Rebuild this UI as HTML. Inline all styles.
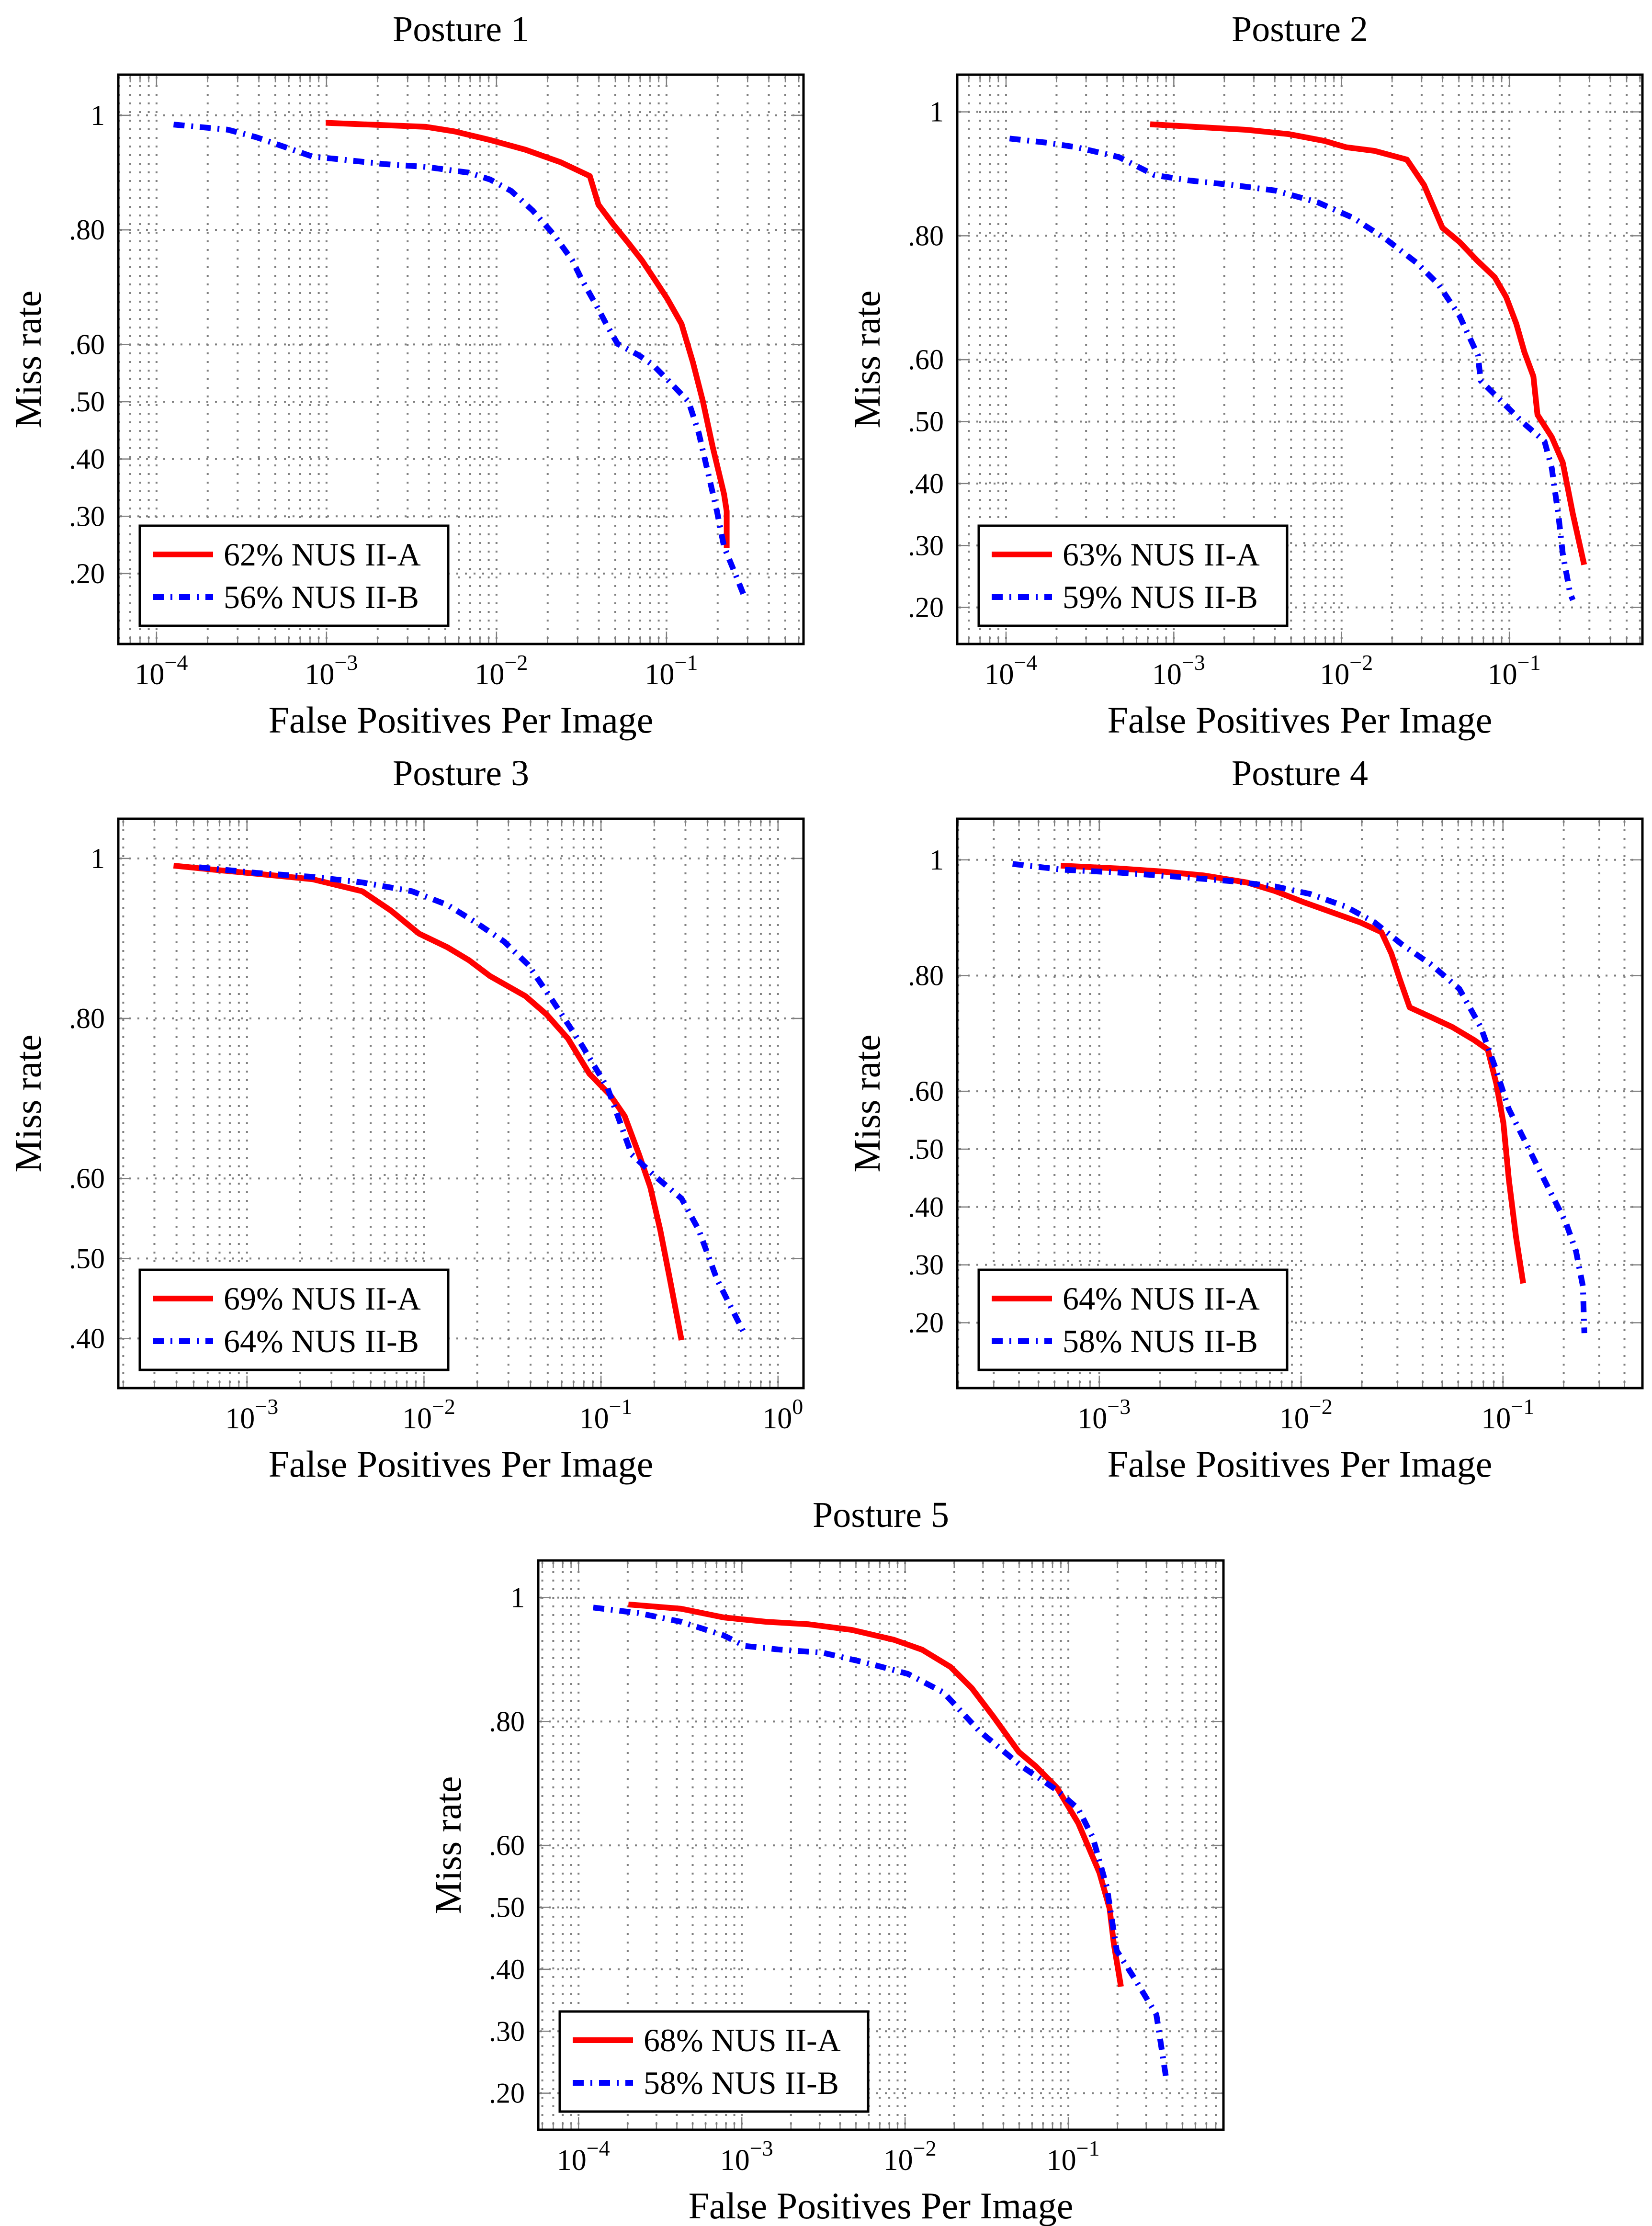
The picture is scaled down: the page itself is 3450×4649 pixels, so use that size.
<!DOCTYPE html>
<html><head><meta charset="utf-8">
<style>
html,body{margin:0;padding:0;background:#fff;}
svg{display:block;}
svg text{font-family:"Liberation Serif","DejaVu Serif",serif;}
</style></head>
<body>
<svg id="chart" width="3450" height="4649" viewBox="0 0 3450 4649" xmlns="http://www.w3.org/2000/svg" font-family="Liberation Serif, DejaVu Serif, serif"></svg>
<script>
// ---- data (FPPI, miss rate) ----
const p1RedFppi  = [0.00099,0.00385,0.00566,0.00917,0.0148,0.0239,0.0354,0.0398,0.0488,0.059,0.0716,0.0867,0.101,0.1225,0.143,0.164,0.187,0.218,0.226,0.226];
const p1RedMiss  = [0.987,0.980,0.972,0.957,0.940,0.918,0.894,0.844,0.809,0.779,0.747,0.710,0.680,0.636,0.569,0.500,0.421,0.339,0.309,0.245];
const p1BlueFppi = [0.000126,0.000262,0.000385,0.000565,0.000828,0.00122,0.00217,0.00385,0.00685,0.00917,0.0122,0.0163,0.0217,0.0279,0.0319,0.0387,0.0451,0.0516,0.0689,0.0834,0.101,0.135,0.155,0.173,0.198,0.218,0.255,0.286];
const p1BlueMiss = [0.984,0.975,0.962,0.945,0.928,0.923,0.915,0.910,0.900,0.888,0.868,0.834,0.792,0.747,0.712,0.668,0.631,0.601,0.581,0.564,0.539,0.500,0.445,0.384,0.309,0.247,0.198,0.161];

const p2RedFppi  = [0.000723,0.00151,0.00272,0.00486,0.00792,0.0106,0.0157,0.0245,0.031,0.0399,0.0504,0.0637,0.0818,0.0957,0.110,0.123,0.139,0.147,0.179,0.208,0.239,0.279];
const p2RedMiss  = [0.980,0.975,0.971,0.964,0.953,0.943,0.937,0.923,0.882,0.813,0.790,0.761,0.733,0.701,0.658,0.612,0.573,0.511,0.475,0.434,0.351,0.269];
const p2BlueFppi = [0.000105,0.000178,0.000262,0.000471,0.000766,0.00125,0.00223,0.00401,0.0072,0.0117,0.0183,0.0281,0.0376,0.0504,0.0649,0.0675,0.0904,0.121,0.162,0.179,0.197,0.208,0.230,0.239];
const p2BlueMiss = [0.957,0.950,0.943,0.927,0.898,0.889,0.882,0.873,0.854,0.829,0.795,0.756,0.722,0.671,0.607,0.566,0.532,0.498,0.468,0.425,0.344,0.287,0.223,0.212];

const p3RedFppi  = [0.000385,0.000646,0.00112,0.00235,0.00448,0.00649,0.00938,0.01355,0.0179,0.0236,0.0374,0.0493,0.065,0.0859,0.113,0.136,0.164,0.190,0.216,0.245,0.285];
const p3RedMiss  = [0.991,0.986,0.981,0.974,0.959,0.935,0.906,0.889,0.873,0.853,0.828,0.805,0.775,0.731,0.704,0.678,0.630,0.589,0.536,0.474,0.398];
const p3BlueFppi = [0.000537,0.00112,0.00235,0.00448,0.00855,0.01355,0.0196,0.0284,0.0388,0.0541,0.0783,0.109,0.149,0.204,0.285,0.356,0.452,0.543,0.653];
const p3BlueMiss = [0.989,0.982,0.977,0.970,0.959,0.942,0.920,0.896,0.867,0.820,0.766,0.713,0.630,0.602,0.575,0.536,0.474,0.439,0.404];

const p4RedFppi  = [0.000644,0.00125,0.00203,0.0033,0.00537,0.00743,0.01026,0.0154,0.0196,0.025,0.028,0.0308,0.0345,0.0441,0.0561,0.0716,0.0841,0.0927,0.1005,0.107,0.116,0.126];
const p4RedMiss  = [0.990,0.985,0.980,0.973,0.961,0.946,0.927,0.905,0.892,0.875,0.838,0.794,0.745,0.728,0.711,0.689,0.672,0.613,0.545,0.447,0.349,0.268];
const p4BlueFppi = [0.000372,0.000655,0.00125,0.00239,0.00457,0.00743,0.0111,0.0167,0.0231,0.0318,0.0441,0.0608,0.0776,0.0912,0.107,0.126,0.148,0.174,0.205,0.230,0.249,0.253];
const p4BlueMiss = [0.993,0.983,0.978,0.971,0.963,0.954,0.941,0.919,0.892,0.853,0.819,0.777,0.711,0.643,0.569,0.520,0.471,0.422,0.373,0.324,0.263,0.182];

const p5RedFppi  = [0.000202,0.000425,0.000774,0.00141,0.00257,0.00469,0.00853,0.0127,0.019,0.0256,0.0347,0.0497,0.063,0.0853,0.115,0.155,0.179,0.190,0.210];
const p5RedMiss  = [0.989,0.982,0.968,0.961,0.957,0.948,0.932,0.916,0.888,0.854,0.808,0.751,0.728,0.693,0.636,0.556,0.498,0.441,0.372];
const p5BlueFppi = [0.000123,0.000233,0.000425,0.000774,0.00104,0.00172,0.00314,0.00573,0.0104,0.0172,0.0284,0.0516,0.0853,0.115,0.141,0.172,0.198,0.256,0.346,0.398];
const p5BlueMiss = [0.984,0.975,0.961,0.939,0.922,0.916,0.911,0.895,0.877,0.847,0.785,0.728,0.689,0.659,0.613,0.533,0.430,0.384,0.327,0.223];

const tickLabelsFull  = ["1",".80",".60",".50",".40",".30",".20"];
const tickValuesFull  = [1,0.8,0.6,0.5,0.4,0.3,0.2];
const tickLabelsShort = ["1",".80",".60",".50",".40"];
const tickValuesShort = [1,0.8,0.6,0.5,0.4];
const legendA = ["62% NUS II-A","63% NUS II-A","69% NUS II-A","64% NUS II-A","68% NUS II-A"];
const legendB = ["56% NUS II-B","59% NUS II-B","64% NUS II-B","58% NUS II-B","58% NUS II-B"];

// ---- layout ----
const W = 1431, H = 1189;
const FONT = "Liberation Serif, DejaVu Serif, serif";
const panels = [
 {title:"Posture 1", x0:247, y0:156, xmin:-4.225, xmax:-0.194, ymin:0.077, ymax:1.071, yv:tickValuesFull, yl:tickLabelsFull, dec:[-4,-3,-2,-1], rf:p1RedFppi, rm:p1RedMiss, bf:p1BlueFppi, bm:p1BlueMiss},
 {title:"Posture 2", x0:1999, y0:156, xmin:-4.291, xmax:-0.207, ymin:0.141, ymax:1.060, yv:tickValuesFull, yl:tickLabelsFull, dec:[-4,-3,-2,-1], rf:p2RedFppi, rm:p2RedMiss, bf:p2BlueFppi, bm:p2BlueMiss},
 {title:"Posture 3", x0:247, y0:1710, xmin:-3.727, xmax:0.144, ymin:0.338, ymax:1.0496, yv:tickValuesShort, yl:tickLabelsShort, dec:[-3,-2,-1,0], rf:p3RedFppi, rm:p3RedMiss, bf:p3BlueFppi, bm:p3BlueMiss},
 {title:"Posture 4", x0:1999, y0:1710, xmin:-3.704, xmax:-0.309, ymin:0.087, ymax:1.071, yv:tickValuesFull, yl:tickLabelsFull, dec:[-3,-2,-1], rf:p4RedFppi, rm:p4RedMiss, bf:p4BlueFppi, bm:p4BlueMiss},
 {title:"Posture 5", x0:1124, y0:3259, xmin:-4.247, xmax:-0.050, ymin:0.141, ymax:1.060, yv:tickValuesFull, yl:tickLabelsFull, dec:[-4,-3,-2,-1], rf:p5RedFppi, rm:p5RedMiss, bf:p5BlueFppi, bm:p5BlueMiss}
];

const NS = "http://www.w3.org/2000/svg";
const svg = document.getElementById("chart");
function mk(tag, attrs, parent){
  const e = document.createElementNS(NS, tag);
  for (const k in attrs) e.setAttribute(k, attrs[k]);
  if (tag === "text") e.setAttribute("font-family", FONT);
  (parent||svg).appendChild(e);
  return e;
}

panels.forEach((p, i) => {
  const n = i + 1;
  const g = mk("g", {});
  
  
  const xs = v => p.x0 + (Math.log10(v) - p.xmin) / (p.xmax - p.xmin) * W;
  const ys = v => p.y0 + (p.ymax - v) / (p.ymax - p.ymin) * H;
  const bottom = p.y0 + H;

  const grid = mk("g", {stroke:"#808080", "stroke-width":4, "stroke-dasharray":"4 14", fill:"none"}, g);
  
  
  const ticks = mk("g", {stroke:"#808080", "stroke-width":2.5}, g);
  
  
  for (let d = Math.floor(p.xmin); d <= Math.ceil(p.xmax); d++) {
    for (let m = 1; m <= 9; m++) {
      const v = m * Math.pow(10, d);
      const lv = Math.log10(v);
      if (lv < p.xmin || lv > p.xmax) continue;
      const x = xs(v);
      mk("line", {x1:x, y1:p.y0+4, x2:x, y2:bottom-4}, grid);
      const L = m === 1 ? 26 : 16;
      mk("line", {x1:x, y1:bottom, x2:x, y2:bottom-L}, ticks);
      mk("line", {x1:x, y1:p.y0, x2:x, y2:p.y0+L}, ticks);
    }
  }
  p.yv.forEach((v, k) => {
    const y = ys(v);
    mk("line", {x1:p.x0+4, y1:y, x2:p.x0+W-4, y2:y}, grid);
    mk("line", {x1:p.x0, y1:y, x2:p.x0+26, y2:y}, ticks);
    mk("line", {x1:p.x0+W, y1:y, x2:p.x0+W-26, y2:y}, ticks);
    const t = mk("text", {x:p.x0-28, y:y+20, "font-size":60, "text-anchor":"end", fill:"#000"}, g);
    t.textContent = p.yl[k];
    
    
  });
  p.dec.forEach(d => {
    const x = xs(Math.pow(10, d));
    const t = mk("text", {x:x+10, y:bottom+84, "font-size":62, "text-anchor":"middle", fill:"#000"}, g);
    
    
    const a = mk("tspan", {}, t); a.textContent = "10";
    const b = mk("tspan", {dy:-30, "font-size":46}, t); b.textContent = (d < 0 ? "\u2212" + (-d) : String(d));
  });

  const line = (fx, fy) => fx.map((v, k) => xs(v).toFixed(1) + "," + ys(fy[k]).toFixed(1)).join(" ");
  const clipId = "clip" + n;
  const cp = mk("clipPath", {id:clipId}, g);
  mk("rect", {x:p.x0, y:p.y0, width:W, height:H}, cp);
  const red = mk("polyline", {points:line(p.rf, p.rm), fill:"none", stroke:"#ff0000", "stroke-width":12, "stroke-linejoin":"round", "clip-path":"url(#"+clipId+")"}, g);
  
  
  const blue = mk("polyline", {points:line(p.bf, p.bm), fill:"none", stroke:"#0000ff", "stroke-width":12, "stroke-dasharray":"23 14 4 14", "stroke-linejoin":"round", "clip-path":"url(#"+clipId+")"}, g);
  
  

  const fr = mk("rect", {x:p.x0, y:p.y0, width:W, height:H, fill:"none", stroke:"#000", "stroke-width":5}, g);
  
  

  const lx = p.x0 + 45, ly = bottom - 38 - 209;
  const lg = mk("g", {}, g);
  
  
  mk("rect", {x:lx, y:ly, width:644, height:209, fill:"#fff", stroke:"#000", "stroke-width":5}, lg);
  mk("line", {x1:lx+27, y1:ly+60, x2:lx+153, y2:ly+60, stroke:"#ff0000", "stroke-width":12}, lg);
  mk("line", {x1:lx+27, y1:ly+149, x2:lx+153, y2:ly+149, stroke:"#0000ff", "stroke-width":12, "stroke-dasharray":"23 14 4 14"}, lg);
  const ta = mk("text", {x:lx+175, y:ly+83, "font-size":68, fill:"#000"}, lg);
  ta.textContent = legendA[i];
  
  
  const tb = mk("text", {x:lx+175, y:ly+172, "font-size":68, fill:"#000"}, lg);
  tb.textContent = legendB[i];
  
  

  const tt = mk("text", {x:p.x0+W/2, y:p.y0-70, "font-size":76, "text-anchor":"middle", fill:"#000"}, g);
  tt.textContent = p.title;
  
  
  const xl = mk("text", {x:p.x0+W/2, y:bottom+185, "font-size":78, "text-anchor":"middle", fill:"#000"}, g);
  xl.textContent = "False Positives Per Image";
  
  
  const yx = p.x0 - 162, yy = p.y0 + H/2;
  const yl = mk("text", {x:yx, y:yy, "font-size":78, "text-anchor":"middle", fill:"#000", transform:"rotate(-90 "+yx+" "+yy+")"}, g);
  yl.textContent = "Miss rate";
  
  
});
</script>
</body></html>
